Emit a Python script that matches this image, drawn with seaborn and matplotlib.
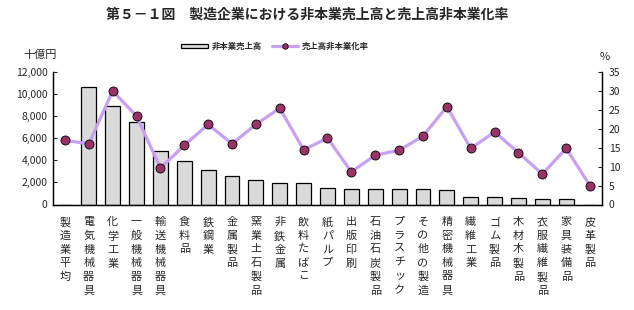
import numpy as np
import pandas as pd
import matplotlib
matplotlib.use("Agg")
import matplotlib.pyplot as plt
import seaborn as sns
from matplotlib.ticker import FuncFormatter

# ----------------------------
# DATA
# ----------------------------
industries = ["製造業平均", "電気機械器具", "化学工業", "一般機械器具", "輸送機械器具",
              "食料品", "鉄鋼業", "金属製品", "窯業土石製品", "非鉄金属", "飲料たばこ",
              "紙パルプ", "出版印刷", "石油石炭製品", "プラスチック", "その他の製造",
              "精密機械器具", "繊維工業", "ゴム製品", "木材木製品", "衣服繊維製品",
              "家具装備品", "皮革製品"]
# 非本業売上高 (十億円)
sales = [0, 10580, 8860, 7420, 4790, 3890, 3080, 2620, 2170, 1930, 1920,
         1450, 1360, 1360, 1360, 1360, 1270, 720, 720, 630, 540, 540, 0]
# 売上高非本業化率 (%)
rate = [16.9, 16.0, 29.9, 23.3, 9.6, 15.6, 21.1, 16.0, 21.1, 25.4, 14.4,
        17.5, 8.6, 13.0, 14.3, 18.0, 25.8, 14.8, 19.1, 13.7, 8.0, 14.8, 4.9]

df = pd.DataFrame({"industry": industries, "sales": sales, "rate": rate})
df["pos"] = np.arange(len(df))

sns.set_style("white")
plt.rcParams['font.family'] = ['Noto Sans CJK JP', 'DejaVu Sans']

fig = plt.figure(figsize=(6.34, 3.10), dpi=100)
ax = fig.add_axes([53/634, 1-204.5/310, 549/634, 132.8/310])

# ----------------------------
# BARS
# ----------------------------
sns.barplot(data=df, x="industry", y="sales", order=industries, color="#dadada",
            saturation=1, edgecolor="black", linewidth=0.9, width=0.62,
            label="非本業売上高", ax=ax)
if ax.get_legend() is not None:
    ax.get_legend().remove()
ax.set_ylim(0, 12000)
ax.set_yticks(range(0, 12001, 2000))
ax.yaxis.set_major_formatter(FuncFormatter(lambda v, p: f"{int(v):,}"))
ax.set_xlim(-0.5, len(industries) - 0.5)
ax.set_xticks(df["pos"])
ax.set_xticklabels(["\n".join(s) for s in industries], fontsize=8, linespacing=1.45,
                   va="top")
ax.set_xlabel("")
ax.set_ylabel("")
ax.tick_params(axis="x", length=0, pad=9)
ax.tick_params(axis="y", direction="in", length=3, width=0.8, labelsize=7.5, pad=4,
               left=True)

# ----------------------------
# LINE (right axis)
# ----------------------------
ax2 = ax.twinx()
sns.lineplot(data=df, x="pos", y="rate", color="#c8a0f2", linewidth=2.3,
             marker="o", markersize=6.5, markerfacecolor="#993366",
             markeredgecolor="black", markeredgewidth=0.6,
             label="売上高非本業化率", legend=False, ax=ax2)
ax2.set_ylim(0, 35)
ax2.set_yticks(range(0, 36, 5))
ax2.set_ylabel("")
ax2.tick_params(axis="y", direction="in", length=3, width=0.8, labelsize=7.5, pad=5,
                right=True)

for a in (ax, ax2):
    a.spines["top"].set_visible(False)
    for s in ("left", "right", "bottom"):
        a.spines[s].set_color("black")
        a.spines[s].set_linewidth(0.9)

# ----------------------------
# TEXT + LEGEND
# ----------------------------
fig.text(307/634, 1-15/310, "第５－１図　製造企業における非本業売上高と売上高非本業化率",
         ha="center", va="center", fontsize=10, fontweight="bold")
fig.text(40/634, 1-55/310, "十億円", ha="center", va="center", fontsize=8)
fig.text(605/634, 1-57/310, "%", ha="center", va="center", fontsize=8)

h1, l1 = ax.get_legend_handles_labels()
h2, l2 = ax2.get_legend_handles_labels()
fig.legend(h1 + h2, l1 + l2, loc="center", bbox_to_anchor=(275/634, 1-46.5/310),
           ncol=2, frameon=False, handlelength=3.2, handleheight=0.5, markerscale=0.6,
           columnspacing=1.2, handletextpad=0.4, prop={"weight": "bold", "size": 6})

fig.savefig("out.png", dpi=100)
